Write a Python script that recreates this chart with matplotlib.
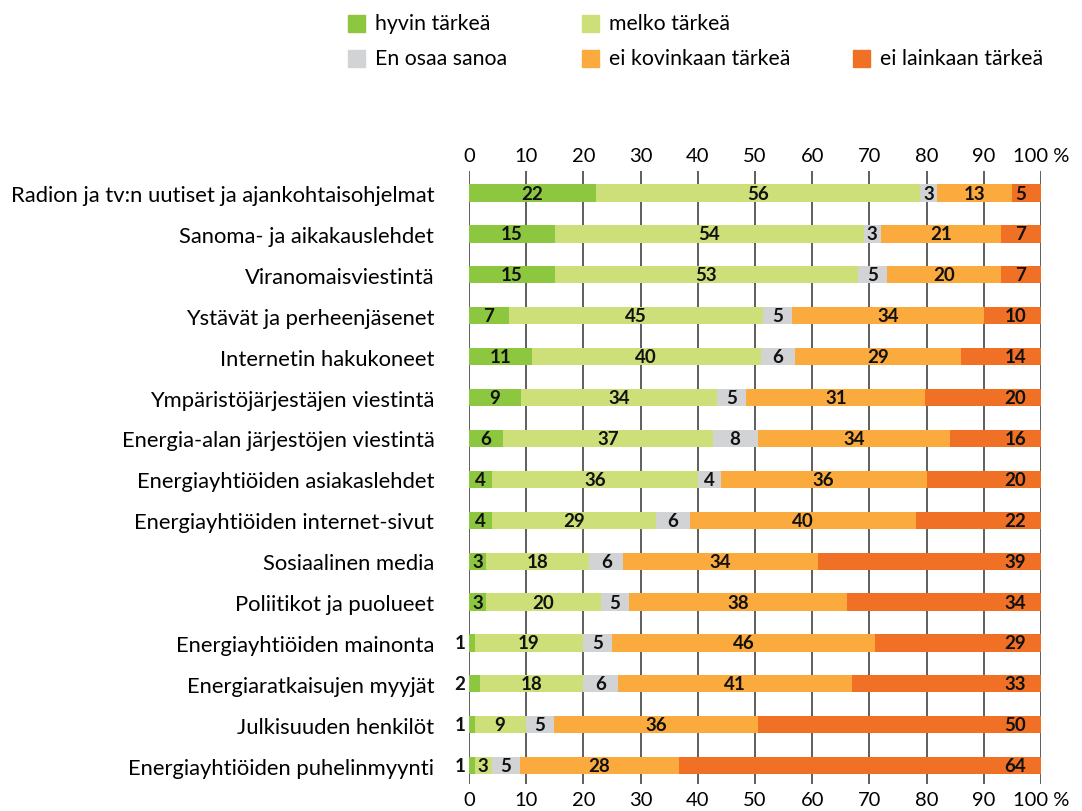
import matplotlib.pyplot as plt
import matplotlib.patches as mpatches
import numpy as np

plt.rcParams['font.family'] = ['Lato', 'DejaVu Sans']

categories = [
    'Radion ja tv:n uutiset ja ajankohtaisohjelmat',
    'Sanoma- ja aikakauslehdet',
    'Viranomaisviestintä',
    'Ystävät ja perheenjäsenet',
    'Internetin hakukoneet',
    'Ympäristöjärjestäjen viestintä',
    'Energia-alan järjestöjen viestintä',
    'Energiayhtiöiden asiakaslehdet',
    'Energiayhtiöiden internet-sivut',
    'Sosiaalinen media',
    'Poliitikot ja puolueet',
    'Energiayhtiöiden mainonta',
    'Energiaratkaisujen myyjät',
    'Julkisuuden henkilöt',
    'Energiayhtiöiden puhelinmyynti',
]

hyvin = [22, 15, 15, 7, 11, 9, 6, 4, 4, 3, 3, 1, 2, 1, 1]
melko = [56, 54, 53, 45, 40, 34, 37, 36, 29, 18, 20, 19, 18, 9, 3]
eos = [3, 3, 5, 5, 6, 5, 8, 4, 6, 6, 5, 5, 6, 5, 5]
ei_kovin = [13, 21, 20, 34, 29, 31, 34, 36, 40, 34, 38, 46, 41, 36, 28]
ei_lainkaan = [5, 7, 7, 10, 14, 20, 16, 20, 22, 39, 34, 29, 33, 50, 64]

series_names = ['hyvin tärkeä', 'melko tärkeä', 'En osaa sanoa',
                'ei kovinkaan tärkeä', 'ei lainkaan tärkeä']
colors = ['#8DC63F', '#CDDF78', '#D1D3D4', '#FBAA3E', '#F07125']

data = np.array([hyvin, melko, eos, ei_kovin, ei_lainkaan], dtype=float)
pct = data / data.sum(axis=0) * 100

fig = plt.figure(figsize=(10.82, 8.12), dpi=100)
ax = fig.add_axes([469 / 1082, 1 - 785 / 812, (1041 - 469) / 1082, (785 - 172) / 812])

y = np.arange(len(categories))
left = np.zeros(len(categories))
lab = dict(fontsize=13.5, fontweight='bold', color='#111111', va='center', zorder=3)
for k in range(5):
    ax.barh(y, pct[k], left=left, height=0.42, color=colors[k], zorder=2)
    for i in range(len(categories)):
        v = int(data[k, i])
        if k == 0 and v <= 2:
            ax.text(-0.6, y[i], str(v), ha='right', **lab)
        elif k == 4:
            # last segment label sits against the right end of the bar
            ax.text(97.4, y[i], str(v), ha='right', **lab)
        else:
            ax.text(left[i] + pct[k, i] / 2, y[i], str(v), ha='center', **lab)
    left += pct[k]

ax.set_xlim(0, 100)
ax.set_ylim(14.45, -0.54)
ax.set_yticks(y)
ax.set_yticklabels(categories, fontsize=15.8)
ticks = np.arange(0, 101, 10)
ax.set_xticks(ticks)
ax.set_xticklabels([str(t) if t < 100 else '100 %' for t in ticks], fontsize=14.5)
ax.tick_params(axis='x', length=0, pad=5, labeltop=True, top=False)
ax.tick_params(axis='y', length=0, pad=25)
ax.grid(axis='x', color='#333333', linewidth=1.1, zorder=0)
ax.set_axisbelow(True)
for s in ax.spines.values():
    s.set_visible(False)

# legend drawn by hand to keep the uneven layout of the original
leg_pos = [(348, 24.5), (582, 24.5), (348, 59), (582, 59), (853, 59)]
for (px, py), name, c in zip(leg_pos, series_names, colors):
    fig.add_artist(mpatches.Rectangle((px / 1082, 1 - (py + 8.5) / 812), 17 / 1082, 17 / 812,
                                      transform=fig.transFigure, color=c))
    fig.text((px + 27) / 1082, 1 - py / 812, name, ha='left', va='center', fontsize=15.3)

fig.savefig('out.png', dpi=100)
